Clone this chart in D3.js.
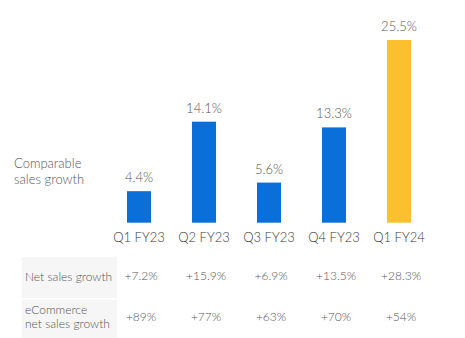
<!DOCTYPE html>
<html>
<head>
<meta charset="utf-8">
<script src="https://cdn.jsdelivr.net/npm/d3@7"></script>
<style>
  html, body { margin: 0; padding: 0; background: #fff; }
  svg { display: block; font-family: Lato, "Open Sans", sans-serif; font-weight: 300; }
</style>
</head>
<body>
<svg id="chart" width="465" height="338"></svg>
<script>
const categories = ["Q1 FY23", "Q2 FY23", "Q3 FY23", "Q4 FY23", "Q1 FY24"];
const compSales = [4.4, 14.1, 5.6, 13.3, 25.5];
const compLabels = ["4.4%", "14.1%", "5.6%", "13.3%", "25.5%"];
const netSales = ["+7.2%", "+15.9%", "+6.9%", "+13.5%", "+28.3%"];
const eCommerce = ["+89%", "+77%", "+63%", "+70%", "+54%"];
const highlight = [false, false, false, false, true];

const svg = d3.select("#chart");
const textColor = "#555";

const x = d3.scaleBand().domain(categories).range([106.5, 431.5]).paddingInner(0.63).paddingOuter(0.315);
const y = d3.scaleLinear().domain([0, 25.5]).range([222.7, 40]);

// bars
svg.append("g").selectAll("rect").data(categories).join("rect")
  .attr("x", d => x(d))
  .attr("width", x.bandwidth())
  .attr("y", (d, i) => y(compSales[i]))
  .attr("height", (d, i) => y(0) - y(compSales[i]))
  .attr("fill", (d, i) => highlight[i] ? "#fbc02d" : "#0b6fd9");

// value labels
svg.append("g").selectAll("text").data(categories).join("text")
  .attr("x", d => x(d) + x.bandwidth() / 2)
  .attr("y", (d, i) => y(compSales[i]) - 9)
  .attr("text-anchor", "middle")
  .attr("font-size", 13)
  .attr("fill", textColor)
  .text((d, i) => compLabels[i]);

// x axis
const axis = svg.append("g").attr("transform", `translate(0,${y(0)})`)
  .call(d3.axisBottom(x).tickSize(0).tickPadding(10));
axis.select(".domain").remove();
axis.selectAll("text").attr("font-size", 13).attr("fill", "#3a3a3a")
  .attr("font-family", "Lato, sans-serif").attr("font-weight", 300);

// left label
const lab = svg.append("text").attr("x", 14).attr("y", 168).attr("font-size", 13).attr("fill", textColor);
lab.append("tspan").attr("x", 14).attr("dy", 0).text("Comparable");
lab.append("tspan").attr("x", 14).attr("dy", 16).text("sales growth");

// table
svg.append("rect").attr("x", 22).attr("y", 257).attr("width", 95).attr("height", 41).attr("fill", "#f6f6f6");
svg.append("rect").attr("x", 22).attr("y", 299.5).attr("width", 95).attr("height", 40).attr("fill", "#f6f6f6");

svg.append("text").attr("x", 25).attr("y", 280.5).attr("font-size", 12).attr("fill", textColor).text("Net sales growth");
const ec = svg.append("text").attr("x", 25).attr("y", 313.5).attr("font-size", 12).attr("fill", textColor);
ec.append("tspan").attr("x", 25).attr("dy", 0).text("eCommerce");
ec.append("tspan").attr("x", 25).attr("dy", 14).text("net sales growth");

svg.append("g").selectAll("text").data(categories).join("text")
  .attr("x", d => x(d) + x.bandwidth() / 2 + 2)
  .attr("y", 280)
  .attr("text-anchor", "middle")
  .attr("font-size", 12)
  .attr("fill", textColor)
  .text((d, i) => netSales[i]);

svg.append("g").selectAll("text").data(categories).join("text")
  .attr("x", d => x(d) + x.bandwidth() / 2 + 2)
  .attr("y", 321)
  .attr("text-anchor", "middle")
  .attr("font-size", 12)
  .attr("fill", textColor)
  .text((d, i) => eCommerce[i]);
</script>
</body>
</html>
